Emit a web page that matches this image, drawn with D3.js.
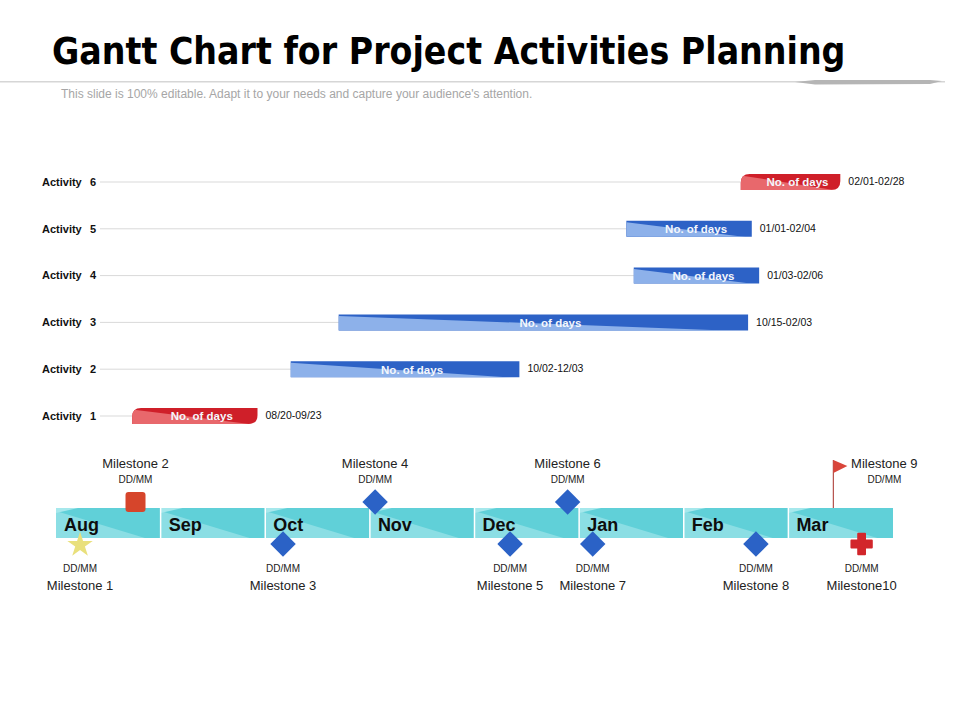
<!DOCTYPE html>
<html>
<head>
<meta charset="utf-8">
<script src="https://cdn.jsdelivr.net/npm/d3@7"></script>
<style>
  body { margin: 0; background: #fff; }
  text { font-family: "Liberation Sans", Arial, sans-serif; }
</style>
</head>
<body>
<div id="chart"></div>
<script>
const FRAME_WIDTH = 960;
const FRAME_HEIGHT = 720;

// activities (bottom to top order as drawn: Activity 1 is lowest)
const activities = ["Activity 1", "Activity 2", "Activity 3", "Activity 4", "Activity 5", "Activity 6"];
const startDates = ["08/20", "10/02", "10/15", "01/03", "01/01", "02/01"];
const endDates = ["09/23", "12/03", "02/03", "02/06", "02/04", "02/28"];
const barColors = ["red", "blue", "blue", "blue", "blue", "red"];

// timeline months
const months = ["Aug", "Sep", "Oct", "Nov", "Dec", "Jan", "Feb", "Mar"];

// milestones: month + position inside the month
const milestoneNames = ["Milestone 1", "Milestone 2", "Milestone 3", "Milestone 4", "Milestone 5",
                        "Milestone 6", "Milestone 7", "Milestone 8", "Milestone 9", "Milestone10"];
const milestoneMonth = ["Aug", "Aug", "Oct", "Nov", "Dec", "Dec", "Jan", "Feb", "Mar", "Mar"];
const milestoneFrac = [0.23, 0.76, 0.17, 0.05, 0.34, 0.89, 0.13, 0.69, 0.43, 0.70];
const milestoneSide = ["below", "above", "below", "above", "below", "above", "below", "below", "above", "below"];
const milestoneShape = ["star", "square", "diamond", "diamond", "diamond", "diamond", "diamond", "diamond", "flag", "cross"];
const milestoneDate = "DD/MM";

const COLORS = {
    blue: {dark: "#2d62c6", light: "#8db1ea"},
    red: {dark: "#cf1f29", light: "#e8686c"}
};

const svg = d3.select("#chart")
    .append("svg")
    .attr("width", FRAME_WIDTH)
    .attr("height", FRAME_HEIGHT);

// ---- title ----
svg.append("text")
    .attr("x", 52)
    .attr("y", 64)
    .style("font-family", "'Liberation Sans Narrow', 'DejaVu Sans Condensed', sans-serif")
    .style("font-weight", "bold")
    .style("font-size", "37px")
    .attr("fill", "#000")
    .text("Gantt Chart for Project Activities Planning");

svg.append("rect")
    .attr("x", 0).attr("y", 81)
    .attr("width", 945).attr("height", 1.5)
    .attr("fill", "#d6d6d6");

svg.append("path")
    .attr("d", "M795,82 L815,80 L930,80 L942,81 L930,84 L815,84.5 Z")
    .attr("fill", "#b5b5b5");

svg.append("text")
    .attr("x", 61)
    .attr("y", 98)
    .style("font-size", "12px")
    .attr("fill", "#a6a6a6")
    .text("This slide is 100% editable. Adapt it to your needs and capture your audience's attention.");

// ---- gantt ----
function parseDay(s) {
    const [m, d] = s.split("/").map(Number);
    return new Date(m >= 8 ? 2018 : 2019, m - 1, d);
}

const X_SCALE = d3.scaleTime()
    .domain([new Date(2018, 7, 1), new Date(2019, 2, 1)])
    .range([62, 844]);

const Y_SCALE = d3.scalePoint()
    .domain(activities)
    .range([416, 182]);

const BAR_H = 16;

const rows = activities.map((a, i) => ({
    name: a,
    start: parseDay(startDates[i]),
    end: parseDay(endDates[i]),
    label: startDates[i] + "-" + endDates[i],
    color: barColors[i]
}));

const gantt = svg.append("g");

// grid lines from label to bar
gantt.selectAll(".grid")
    .data(rows)
    .enter()
    .append("line")
    .attr("x1", 100)
    .attr("x2", d => X_SCALE(d.start))
    .attr("y1", d => Y_SCALE(d.name))
    .attr("y2", d => Y_SCALE(d.name))
    .attr("stroke", "#d9d9d9")
    .attr("stroke-width", 1);

// activity labels
const lbl = gantt.selectAll(".act")
    .data(rows)
    .enter()
    .append("g")
    .attr("transform", d => "translate(0," + Y_SCALE(d.name) + ")");

lbl.append("text")
    .attr("x", 42)
    .attr("dy", "0.35em")
    .style("font-size", "11px")
    .style("font-weight", "bold")
    .attr("fill", "#111")
    .text(d => d.name.split(" ")[0]);

lbl.append("text")
    .attr("x", 96)
    .attr("dy", "0.35em")
    .attr("text-anchor", "end")
    .style("font-size", "11px")
    .style("font-weight", "bold")
    .attr("fill", "#111")
    .text(d => d.name.split(" ")[1]);

function barPath(d) {
    const x0 = X_SCALE(d.start), x1 = X_SCALE(d.end);
    const y0 = Y_SCALE(d.name) - BAR_H / 2, y1 = y0 + BAR_H;
    if (d.color === "red") {
        const r = 9;
        return "M" + x0 + "," + y1 + " L" + x0 + "," + (y0 + r) +
            " Q" + x0 + "," + y0 + " " + (x0 + r) + "," + y0 +
            " L" + x1 + "," + y0 + " L" + x1 + "," + (y1 - r) +
            " Q" + x1 + "," + y1 + " " + (x1 - r) + "," + y1 + " Z";
    }
    return "M" + x0 + "," + y0 + " H" + x1 + " V" + y1 + " H" + x0 + " Z";
}

const bars = gantt.selectAll(".bar")
    .data(rows)
    .enter()
    .append("g");

bars.each(function (d, i) {
    const g = d3.select(this);
    const clipId = "clip" + i;
    g.append("clipPath").attr("id", clipId).append("path").attr("d", barPath(d));
    const x0 = X_SCALE(d.start), x1 = X_SCALE(d.end);
    const y0 = Y_SCALE(d.name) - BAR_H / 2, y1 = y0 + BAR_H;
    g.append("path")
        .attr("d", barPath(d))
        .attr("fill", COLORS[d.color].dark);
    g.append("path")
        .attr("clip-path", "url(#" + clipId + ")")
        .attr("d", "M" + x0 + "," + (y0 + 1.5) + " L" + x1 + "," + (y1 + 1) + " L" + x0 + "," + y1 + " Z")
        .attr("fill", COLORS[d.color].light);
});

bars.append("text")
    .attr("x", d => (X_SCALE(d.start) + X_SCALE(d.end)) / 2 + 7)
    .attr("y", d => Y_SCALE(d.name))
    .attr("dy", "0.38em")
    .attr("text-anchor", "middle")
    .style("font-size", "11.5px")
    .style("font-weight", "bold")
    .attr("fill", "#f4f7fc")
    .text("No. of days");

bars.append("text")
    .attr("x", d => X_SCALE(d.end) + 8)
    .attr("y", d => Y_SCALE(d.name))
    .attr("dy", "0.3em")
    .style("font-size", "10.5px")
    .attr("fill", "#111")
    .text(d => d.label);

// ---- timeline ----
const TL_Y0 = 508, TL_H = 30;

const M_SCALE = d3.scaleBand()
    .domain(months)
    .range([56, 893]);

const tl = svg.append("g");
const cells = tl.selectAll(".cell")
    .data(months)
    .enter()
    .append("g");

cells.append("rect")
    .attr("x", d => M_SCALE(d))
    .attr("y", TL_Y0)
    .attr("width", M_SCALE.bandwidth())
    .attr("height", TL_H)
    .attr("fill", "#60d0d8");

cells.append("path")
    .attr("d", d => {
        const x0 = M_SCALE(d), w = M_SCALE.bandwidth();
        return "M" + x0 + "," + (TL_Y0 + 3) + " L" + (x0 + w * 0.85) + "," + (TL_Y0 + TL_H) +
            " L" + x0 + "," + (TL_Y0 + TL_H) + " Z";
    })
    .attr("fill", "#8bdee4");

cells.append("path")
    .attr("d", d => {
        const x0 = M_SCALE(d);
        return "M" + x0 + "," + TL_Y0 + " L" + (x0 + 22) + "," + TL_Y0 + " L" + x0 + "," + (TL_Y0 + 5) + " Z";
    })
    .attr("fill", "#a6e8ec");

cells.append("text")
    .attr("x", d => M_SCALE(d) + 8)
    .attr("y", TL_Y0 + 23)
    .style("font-size", "18px")
    .style("font-weight", "bold")
    .attr("fill", "#0d0d0d")
    .text(d => d);

tl.selectAll(".sep")
    .data(months.slice(1))
    .enter()
    .append("line")
    .attr("x1", d => M_SCALE(d))
    .attr("x2", d => M_SCALE(d))
    .attr("y1", TL_Y0)
    .attr("y2", TL_Y0 + TL_H)
    .attr("stroke", "#ffffff")
    .attr("stroke-width", 1.5);

// ---- milestones ----
const milestones = milestoneNames.map((n, i) => ({
    name: n,
    x: M_SCALE(milestoneMonth[i]) + milestoneFrac[i] * M_SCALE.bandwidth(),
    side: milestoneSide[i],
    shape: milestoneShape[i]
}));

const ms = svg.append("g").selectAll(".ms")
    .data(milestones)
    .enter()
    .append("g");

ms.each(function (d) {
    const g = d3.select(this);
    const cy = d.side === "above" ? TL_Y0 - 6 : TL_Y0 + TL_H + 6;
    if (d.shape === "star") {
        g.append("path")
            .attr("d", d3.symbol().type(d3.symbolStar).size(200)())
            .attr("transform", "translate(" + d.x + "," + (cy + 1) + ")")
            .attr("fill", "#e9e07c");
    } else if (d.shape === "square") {
        g.append("rect")
            .attr("x", d.x - 10).attr("y", cy - 10)
            .attr("width", 20).attr("height", 20)
            .attr("rx", 3)
            .attr("fill", "#d6452b");
    } else if (d.shape === "diamond") {
        g.append("rect")
            .attr("x", -9).attr("y", -9)
            .attr("width", 18).attr("height", 18)
            .attr("transform", "translate(" + d.x + "," + cy + ") rotate(45)")
            .attr("fill", "#2b62c6");
    } else if (d.shape === "cross") {
        g.append("path")
            .attr("d", d3.symbol().type(d3.symbolCross).size(230)())
            .attr("transform", "translate(" + d.x + "," + cy + ")")
            .attr("fill", "#d2262b")
            .attr("stroke", "#d2262b")
            .attr("stroke-width", 2)
            .attr("stroke-linejoin", "round");
    } else if (d.shape === "flag") {
        g.append("line")
            .attr("x1", d.x).attr("x2", d.x)
            .attr("y1", 460).attr("y2", TL_Y0)
            .attr("stroke", "#b5504a")
            .attr("stroke-width", 1.2);
        g.append("path")
            .attr("d", "M" + d.x + ",460 L" + (d.x + 14) + ",466 L" + d.x + ",473 Z")
            .attr("fill", "#d9453a");
    }

    const tx = d.shape === "flag" ? d.x + 51 : d.x;
    if (d.side === "above") {
        g.append("text")
            .attr("x", tx).attr("y", 468)
            .attr("text-anchor", "middle")
            .style("font-size", "13px")
            .attr("fill", "#222")
            .text(d.name);
        g.append("text")
            .attr("x", tx).attr("y", 483)
            .attr("text-anchor", "middle")
            .style("font-size", "10px")
            .attr("fill", "#222")
            .text(milestoneDate);
    } else {
        g.append("text")
            .attr("x", tx).attr("y", 572)
            .attr("text-anchor", "middle")
            .style("font-size", "10px")
            .attr("fill", "#222")
            .text(milestoneDate);
        g.append("text")
            .attr("x", tx).attr("y", 590)
            .attr("text-anchor", "middle")
            .style("font-size", "13px")
            .attr("fill", "#222")
            .text(d.name);
    }
});
</script>
</body>
</html>
